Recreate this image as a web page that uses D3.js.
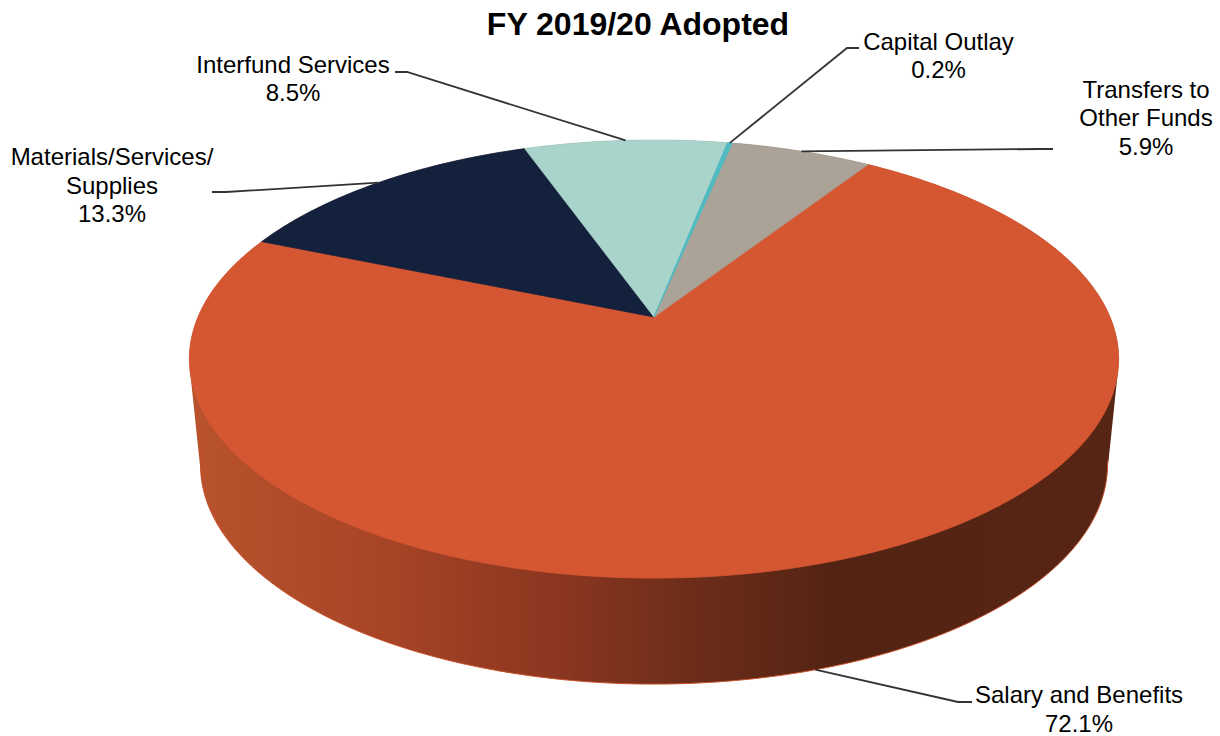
<!DOCTYPE html>
<html><head><meta charset="utf-8">
<script src="https://cdnjs.cloudflare.com/ajax/libs/d3/7.8.5/d3.min.js"></script>
<style>html,body{margin:0;padding:0;background:#fff;overflow:hidden}svg{display:block}
text{font-family:"Liberation Sans",Arial,sans-serif;fill:#000}</style></head><body>
<svg id="c" width="1220" height="736"></svg>
<script>
const categories = ["Salary and Benefits","Materials/Services/ Supplies","Interfund Services","Capital Outlay","Transfers to Other Funds"];
const values = [72.1,13.3,8.5,0.2,5.9];
const colors = ["#d55732","#14213d","#a9d4cb","#4fbcc4","#aba398"];
const labelLines = [["Salary and Benefits","72.1%"],["Materials/Services/","Supplies","13.3%"],["Interfund Services","8.5%"],["Capital Outlay","0.2%"],["Transfers to","Other Funds","5.9%"]];
const title = "FY 2019/20 Adopted";

const svg = d3.select("#c");
const cx=654, cy=317, A=456, B=211, C=0.1918, depth=106, baseScale=0.976;
const deg=Math.PI/180;
const top3d = a => { const u=Math.sin(a), v=-Math.cos(a), w=1-C*v; return [cx+A*u/w, cy+B*v/w]; };
const bot3d = a => { const p=top3d(a); return [cx+(p[0]-cx)*baseScale, p[1]+depth]; };
const pie = d3.pie().sort(null).startAngle(33*deg).endAngle(393*deg)(values);
const line = d3.line();
const samples = (a,b) => d3.range(0,1.0001,1/Math.max(2,Math.ceil((b-a)/(0.5*deg)))).map(t=>a+(b-a)*t);

// side-wall gradient
const grad = svg.append("defs").append("linearGradient").attr("id","wall").attr("gradientUnits","userSpaceOnUse")
  .attr("x1",190).attr("x2",1119).attr("y1",0).attr("y2",0);
[[0,"#b9532c"],[0.2,"#a84527"],[0.4,"#8a3620"],[0.55,"#6b2c19"],[0.7,"#532313"],[1,"#572514"]]
  .forEach(s=>grad.append("stop").attr("offset",s[0]).attr("stop-color",s[1]));

// wall of the front slice
const botFull = samples(0,2*Math.PI).map(bot3d);
const hullPts = d3.polygonHull(samples(0,2*Math.PI).map(top3d).concat(botFull));
svg.append("path").attr("d",line(hullPts)+"Z").attr("fill","url(#wall)");
svg.append("path").attr("d",line(samples(100*deg,280*deg).map(bot3d))).attr("fill","none").attr("stroke","#c9502c").attr("stroke-width",1);

// top faces
svg.selectAll("path.s").data(pie).enter().append("path").attr("class","s")
  .attr("d",d=>line([[cx,cy]].concat(samples(d.startAngle,d.endAngle).map(top3d)))+"Z")
  .attr("fill",(d,i)=>colors[i]).attr("stroke",(d,i)=>colors[i]).attr("stroke-width",0.8);
svg.selectAll("path.s").filter((d,i)=>i===3).raise();

// title
svg.append("text").attr("x",638).attr("y",35).attr("text-anchor","middle")
  .attr("font-size",32).attr("font-weight","bold").text(title);

// layout of callouts
const labelX=[1079,112,293,938.5,1146], labelY=[703,165,72.5,49.5,97.5], elbow=[[958,702],[226,192],[407,72],[847,48],[1040,149]], tail=[[972,702],[212,192],[395,72],[859,48],[1053,149]];
const LH=28.5;
pie.forEach((d,i)=>{
  const mid=(d.startAngle+d.endAngle)/2;
  const p = i===0 ? bot3d(mid) : top3d(mid);
  svg.append("path").attr("d",line([p,elbow[i],tail[i]])).attr("fill","none").attr("stroke","#333").attr("stroke-width",1.8);
  const t=svg.append("text").attr("text-anchor","middle").attr("font-size",24);
  labelLines[i].forEach((s,j)=>t.append("tspan").attr("x",labelX[i]).attr("y",labelY[i]+j*LH).text(s));
});
</script></body></html>
